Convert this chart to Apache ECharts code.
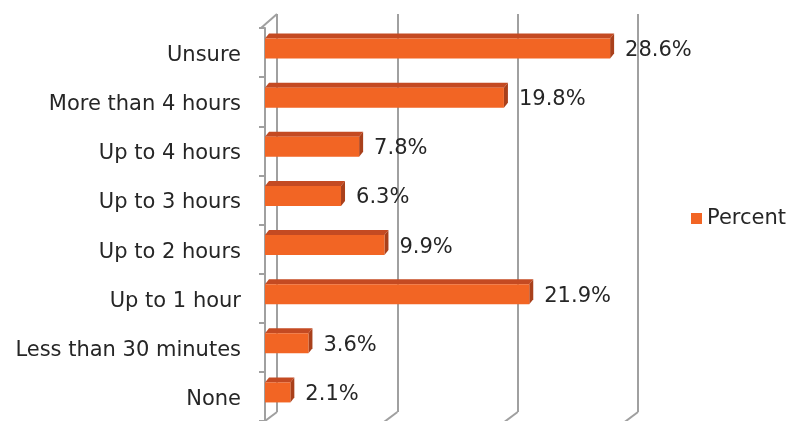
<!DOCTYPE html>
<html>
<head>
<meta charset="utf-8">
<script src="https://cdn.jsdelivr.net/npm/echarts@6/dist/echarts.min.js"></script>
<style>
  html, body { margin: 0; padding: 0; background: #fff; }
</style>
</head>
<body>
<div id="myChart" style="width: 788px; height: 421px;"></div>
<script>
const categories = ['None', 'Less than 30 minutes', 'Up to 1 hour', 'Up to 2 hours',
  'Up to 3 hours', 'Up to 4 hours', 'More than 4 hours', 'Unsure'];
const percent = [2.1, 3.6, 21.9, 9.9, 6.3, 7.8, 19.8, 28.6];
const seriesName = 'Percent';

const FONT = 'DejaVu Sans';
const WALL = '#A0A0A0';
// front plane of the box and back wall (shifted for the 3D look)
const front = { left: 265, top: 28, width: 362, height: 396 };
const back = { left: 277, top: 14, width: 361, height: 398 };
const DX = 4, DY = 5, BAR_H = 20;

let myChart = echarts.init(document.getElementById('myChart'));

// floor and left wall edges
const edges = [];
for (let k = 0; k <= 3; k++) {
  const x = back.left + back.width * k / 3;
  const y = back.top + back.height;
  edges.push({ type: 'line', shape: { x1: x, y1: y, x2: x - 16, y2: y + 12 }, style: { stroke: WALL, lineWidth: 2 }, z: 1 });
}
edges.push({ type: 'line', shape: { x1: 261, y1: 28, x2: back.left, y2: back.top }, style: { stroke: WALL, lineWidth: 2 }, z: 1 });

myChart.setOption({
  animation: false,
  textStyle: { fontFamily: FONT },
  legend: {
    data: [seriesName],
    right: 2,
    top: 208,
    padding: 0,
    icon: 'rect',
    itemWidth: 11,
    itemHeight: 11,
    itemGap: 5,
    textStyle: { fontSize: 21, color: '#262626', fontFamily: FONT }
  },
  grid: [
    { left: front.left, top: front.top, width: front.width, height: front.height },
    { left: back.left, top: back.top, width: back.width, height: back.height }
  ],
  xAxis: [
    { gridIndex: 0, type: 'value', min: 0, max: 30, interval: 10, show: false },
    {
      gridIndex: 1, type: 'value', min: 0, max: 30, interval: 10,
      axisLine: { show: false }, axisTick: { show: false }, axisLabel: { show: false },
      splitLine: { show: true, lineStyle: { color: WALL, width: 2 } }
    }
  ],
  yAxis: [
    {
      gridIndex: 0, type: 'category', data: categories, offset: 4,
      axisLine: { show: true, lineStyle: { color: WALL, width: 2 } },
      axisTick: { show: true, length: 6, lineStyle: { color: WALL, width: 2 } },
      axisLabel: {
        margin: 20,
        formatter: function (v) { return '{c|' + v + '}'; },
        rich: { c: { fontSize: 21, color: '#262626', fontFamily: FONT, padding: [6, 0, 0, 0] } }
      },
      splitLine: { show: false }
    },
    { gridIndex: 1, type: 'category', data: categories, show: false }
  ],
  graphic: edges,
  series: [
    {
      name: seriesName,
      type: 'custom',
      xAxisIndex: 0,
      yAxisIndex: 0,
      itemStyle: { color: '#F26524' },
      data: percent.map(function (v, i) { return [v, i]; }),
      encode: { x: 0, y: 1 },
      renderItem: function (params, api) {
        const v = api.value(0);
        const p0 = api.coord([0, api.value(1)]);
        const p1 = api.coord([v, api.value(1)]);
        const x0 = p0[0], x1 = p1[0];
        const top = p0[1] - 4 - BAR_H / 2;
        return {
          type: 'group',
          children: [
            { type: 'polygon', shape: { points: [[x0, top], [x0 + DX, top - DY], [x1 + DX, top - DY], [x1, top]] }, style: { fill: '#C44A22' } },
            { type: 'polygon', shape: { points: [[x1, top], [x1 + DX, top - DY], [x1 + DX, top - DY + BAR_H], [x1, top + BAR_H]] }, style: { fill: '#A9401B' } },
            { type: 'rect', shape: { x: x0, y: top, width: x1 - x0, height: BAR_H }, style: { fill: '#F26524' } },
            {
              type: 'text', x: x1 + DX + 11, y: top + BAR_H / 2 + 2,
              style: { text: v.toFixed(1) + '%', fontSize: 21, fill: '#262626', fontFamily: FONT, verticalAlign: 'middle' }
            }
          ]
        };
      }
    }
  ]
});
</script>
</body>
</html>
